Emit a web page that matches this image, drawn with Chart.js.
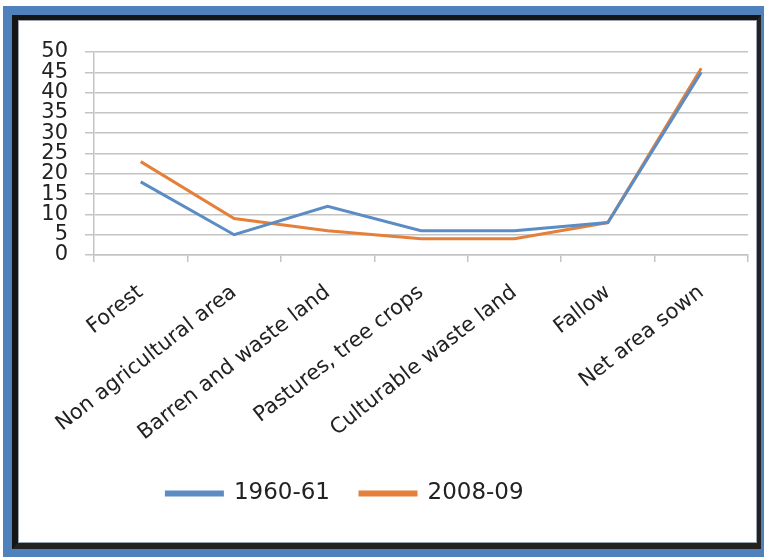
<!DOCTYPE html>
<html>
<head>
<meta charset="utf-8">
<script src="https://cdn.jsdelivr.net/npm/chart.js@4.4.1/dist/chart.umd.min.js"></script>
<style>
    html, body { margin: 0; padding: 0; background: #fff; }
    #frame {
        position: absolute; left: 3px; top: 6px; width: 761px; height: 551px;
        background: #4f81bd;
    }
    #inner {
        position: absolute; left: 9px; top: 9px; width: 739px; height: 523px;
        border-left: 6px solid #151515; border-top: 5px solid #151515;
        border-right: 4px solid #222; border-bottom: 6px solid #222;
        background: #fff;
        box-shadow: inset 0 0 0 1px #9aa4b0;
    }
    #box { position: absolute; left: 0; top: 0; width: 739px; height: 523px; }
</style>
</head>
<body>
<div id="frame">
    <div id="inner">
        <div id="box"><canvas id="landUseChart"></canvas></div>
    </div>
</div>
<script>
// catégories et valeurs
var categories = ['Forest', 'Non agricultural area', 'Barren and waste land',
    'Pastures, tree crops', 'Culturable waste land', 'Fallow', 'Net area sown'];
var values1960 = [18, 5, 12, 6, 6, 8, 45];
var values2008 = [23, 9, 6, 4, 4, 8, 46];
var yTicks = [0, 5, 10, 15, 20, 25, 30, 35, 40, 45, 50];

var textColor = '#222';
var gridColor = '#c4c4c4';

// petit décalage de la légende vers la gauche, comme sur l'original
var legendShift = {
    id: 'legendShift',
    afterLayout: function(chart) {
        chart.legend.left -= 38;
        chart.legend.right -= 38;
    }
};

function initializeChart() {
    var ctx = document.getElementById('landUseChart').getContext('2d');

    new Chart(ctx, {
        type: 'line',
        data: {
            labels: categories,
            datasets: [{
                label: '1960-61',
                data: values1960,
                borderColor: '#5b8cc4',
                backgroundColor: '#5b8cc4',
                borderWidth: 3,
                pointRadius: 0,
                tension: 0
            }, {
                label: '2008-09',
                data: values2008,
                borderColor: '#e4803a',
                backgroundColor: '#e4803a',
                borderWidth: 3,
                pointRadius: 0,
                tension: 0
            }]
        },
        options: {
            responsive: true,
            maintainAspectRatio: false,
            animation: false,
            layout: {
                padding: { left: 0, top: 32, right: 9, bottom: 28 }
            },
            scales: {
                x: {
                    offset: true,
                    grid: {
                        offset: true,
                        drawOnChartArea: false,
                        color: gridColor,
                        lineWidth: 1.5,
                        tickLength: 7
                    },
                    border: { color: gridColor, width: 1.5 },
                    ticks: {
                        color: textColor,
                        font: { family: 'DejaVu Sans', size: 21 },
                        minRotation: 38,
                        maxRotation: 38,
                        autoSkip: false,
                        padding: 18
                    },
                    afterFit: function(scale) { scale.height = 197; }
                },
                y: {
                    min: 0,
                    max: 50,
                    afterBuildTicks: function(scale) {
                        scale.ticks = yTicks.map(function(v) { return { value: v }; });
                    },
                    grid: {
                        color: gridColor,
                        lineWidth: 1.5,
                        tickLength: 9
                    },
                    border: { color: gridColor, width: 1.5 },
                    ticks: {
                        color: textColor,
                        font: { family: 'DejaVu Sans', size: 21 },
                        autoSkip: false,
                        padding: 17
                    },
                    afterFit: function(scale) { scale.width = 76; }
                }
            },
            plugins: {
                legend: {
                    display: true,
                    position: 'bottom',
                    labels: {
                        color: textColor,
                        font: { family: 'DejaVu Sans', size: 23 },
                        boxWidth: 56,
                        boxHeight: 3,
                        padding: 30
                    }
                },
                tooltip: { enabled: false }
            }
        },
        plugins: [legendShift]
    });
}

initializeChart();
</script>
</body>
</html>
